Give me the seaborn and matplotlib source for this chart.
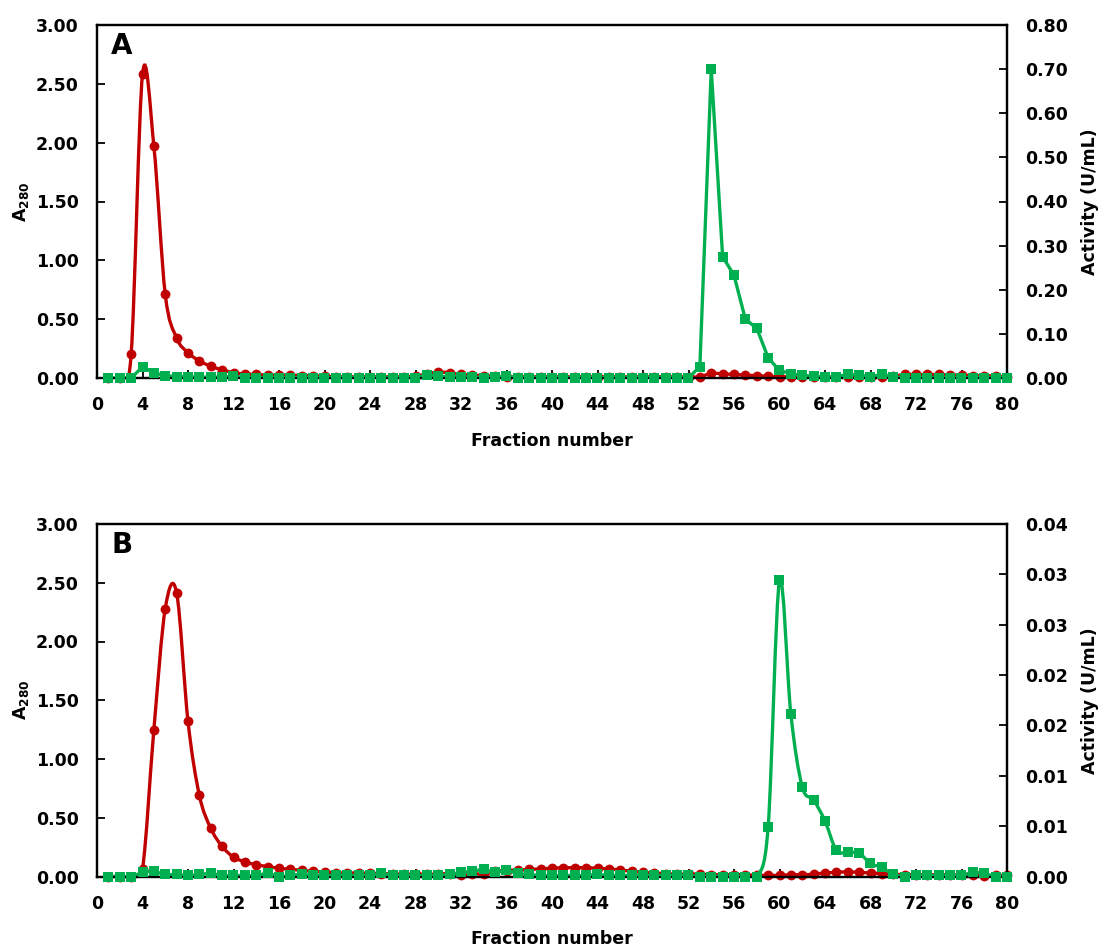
import numpy as np
import pandas as pd
import matplotlib
matplotlib.use('Agg')
import matplotlib.pyplot as plt
import seaborn as sns
from matplotlib.path import Path
from matplotlib.patches import PathPatch

# ---------------- data ----------------
fractions = list(range(1, 81))

a280_A = [0.00, 0.00, 0.20, 2.58, 1.97, 0.71, 0.34, 0.215, 0.145, 0.10,
          0.07, 0.045, 0.035, 0.03, 0.025, 0.025, 0.025, 0.02, 0.02, 0.015,
          0.01, 0.01, 0.01, 0.01, 0.01, 0.01, 0.01, 0.015, 0.035, 0.05,
          0.045, 0.03, 0.025, 0.02, 0.015, 0.01, 0.01, 0.01, 0.01, 0.01,
          0.01, 0.01, 0.01, 0.01, 0.01, 0.01, 0.01, 0.01, 0.01, 0.01,
          0.01, 0.01, 0.01, 0.04, 0.035, 0.03, 0.025, 0.02, 0.015, 0.01,
          0.01, 0.01, 0.01, 0.01, 0.01, 0.01, 0.01, 0.01, 0.01, 0.015,
          0.03, 0.03, 0.03, 0.03, 0.025, 0.025, 0.02, 0.02, 0.015, 0.01]

act_A = [0.000, 0.000, 0.000, 0.025, 0.012, 0.005, 0.003, 0.003, 0.002, 0.002,
         0.002, 0.004, 0.001, 0.001, 0.001, 0.001, 0.001, 0.001, 0.001, 0.001,
         0.001, 0.001, 0.001, 0.001, 0.001, 0.001, 0.001, 0.001, 0.007, 0.004,
         0.003, 0.002, 0.002, 0.001, 0.002, 0.004, 0.001, 0.001, 0.001, 0.001,
         0.001, 0.001, 0.001, 0.001, 0.001, 0.001, 0.001, 0.001, 0.001, 0.001,
         0.000, 0.000, 0.026, 0.700, 0.275, 0.233, 0.133, 0.113, 0.046, 0.017,
         0.010, 0.006, 0.004, 0.002, 0.003, 0.008, 0.007, 0.002, 0.009, 0.002,
         0.001, 0.001, 0.001, 0.001, 0.001, 0.001, 0.001, 0.001, 0.001, 0.001]

a280_B = [0.00, 0.00, 0.00, 0.065, 1.25, 2.28, 2.415, 1.32, 0.69, 0.41,
          0.256, 0.165, 0.125, 0.10, 0.085, 0.07, 0.062, 0.052, 0.045, 0.038,
          0.032, 0.03, 0.03, 0.028, 0.025, 0.022, 0.02, 0.02, 0.02, 0.02,
          0.025, 0.015, 0.025, 0.02, 0.045, 0.05, 0.055, 0.06, 0.065, 0.07,
          0.075, 0.075, 0.075, 0.07, 0.065, 0.055, 0.045, 0.035, 0.03, 0.025,
          0.02, 0.02, 0.02, 0.015, 0.015, 0.015, 0.015, 0.01, 0.01, 0.01,
          0.015, 0.015, 0.02, 0.03, 0.035, 0.04, 0.035, 0.03, 0.025, 0.02,
          0.015, 0.015, 0.015, 0.015, 0.015, 0.01, 0.01, 0.005, 0.01, 0.01]

act_B = [0.0000, 0.0000, 0.0000, 0.0004, 0.0005, 0.0002, 0.0002, 0.0001, 0.0002, 0.0003,
         0.0001, 0.0001, 0.0001, 0.0001, 0.0003, 0.0000, 0.0001, 0.0002, 0.0001, 0.0001,
         0.0001, 0.0001, 0.0001, 0.0001, 0.0003, 0.0001, 0.0001, 0.0001, 0.0001, 0.0001,
         0.0002, 0.0004, 0.0005, 0.0007, 0.0004, 0.0006, 0.0003, 0.0002, 0.0001, 0.0001,
         0.0001, 0.0001, 0.0001, 0.0002, 0.0001, 0.0001, 0.0001, 0.0001, 0.0001, 0.0001,
         0.0001, 0.0001, 0.0000, 0.0000, 0.0000, 0.0000, 0.0000, 0.0000, 0.0049, 0.0294,
         0.0161, 0.0089, 0.0076, 0.0055, 0.0026, 0.0024, 0.0023, 0.0013, 0.0009, 0.0002,
         0.0000, 0.0001, 0.0001, 0.0001, 0.0001, 0.0001, 0.0004, 0.0003, 0.0000, 0.0000]

x_ticks = list(range(0, 81, 4))
left_ticks = [0.0, 0.5, 1.0, 1.5, 2.0, 2.5, 3.0]
left_labels = ['0.00', '0.50', '1.00', '1.50', '2.00', '2.50', '3.00']
right_ticks_A = [0.0, 0.1, 0.2, 0.3, 0.4, 0.5, 0.6, 0.7, 0.8]
right_labels_A = ['0.00', '0.10', '0.20', '0.30', '0.40', '0.50', '0.60', '0.70', '0.80']
right_ticks_B = [0.0, 0.005, 0.010, 0.015, 0.020, 0.025, 0.030, 0.035]
right_labels_B = ['0.00', '0.01', '0.01', '0.02', '0.02', '0.03', '0.03', '0.04']

panel_labels = ['A', 'B']
xlabel_text = 'Fraction number'
left_title = r'$\mathbf{A_{280}}$'
right_title = 'Activity (U/mL)'

RED = '#C00000'
GREEN = '#00B050'

# ---------------- style ----------------
sns.set_style('white')
plt.rcParams['font.family'] = ['DejaVu Sans']
plt.rcParams['font.weight'] = 'bold'
plt.rcParams['mathtext.fontset'] = 'dejavusans'
plt.rcParams['text.color'] = 'black'
plt.rcParams['axes.labelcolor'] = 'black'
plt.rcParams['xtick.color'] = 'black'
plt.rcParams['ytick.color'] = 'black'

FS = 12.5


def smooth_path(x, y):
    """Excel-like smoothed line: cubic Bezier through the data points."""
    x = np.asarray(x, float)
    y = np.asarray(y, float)
    n = len(x)
    verts = [(x[0], y[0])]
    codes = [Path.MOVETO]
    for i in range(n - 1):
        i0 = max(i - 1, 0)
        i3 = min(i + 2, n - 1)
        c1 = (x[i] + (x[i + 1] - x[i0]) / 6.0, y[i] + (y[i + 1] - y[i0]) / 6.0)
        c2 = (x[i + 1] - (x[i3] - x[i]) / 6.0, y[i + 1] - (y[i3] - y[i]) / 6.0)
        verts += [c1, c2, (x[i + 1], y[i + 1])]
        codes += [Path.CURVE4] * 3
    return Path(verts, codes)


fig = plt.figure(figsize=(11.02, 9.51), dpi=100)
W, H = 1102.0, 951.0

panels = [
    dict(rect=[97 / W, 1 - 378 / H, 910 / W, 353 / H], red=a280_A, green=act_A,
         rticks=right_ticks_A, rlabels=right_labels_A, rmax=0.8, green_smooth=False,
         label=panel_labels[0]),
    dict(rect=[97 / W, 1 - 876.5 / H, 910 / W, 352.5 / H], red=a280_B, green=act_B,
         rticks=right_ticks_B, rlabels=right_labels_B, rmax=0.035, green_smooth=True,
         label=panel_labels[1]),
]

for p in panels:
    df = pd.DataFrame({'fraction': fractions, 'a280': p['red'], 'activity': p['green']})
    ax = fig.add_axes(p['rect'])
    ax2 = ax.twinx()

    # red A280 smoothed line + circles
    ax.add_patch(PathPatch(smooth_path(df['fraction'], df['a280']), fill=False,
                           edgecolor=RED, lw=2.4, zorder=2))
    sns.scatterplot(data=df, x='fraction', y='a280', ax=ax, color=RED, marker='o',
                    s=50, edgecolor=RED, linewidth=0, zorder=3, clip_on=False, legend=False)

    # green activity line + squares
    if p['green_smooth']:
        ax2.add_patch(PathPatch(smooth_path(df['fraction'], df['activity']), fill=False,
                                edgecolor=GREEN, lw=2.4, zorder=2))
    else:
        sns.lineplot(data=df, x='fraction', y='activity', ax=ax2, color=GREEN, lw=2.4,
                     zorder=2, legend=False)
    sns.scatterplot(data=df, x='fraction', y='activity', ax=ax2, color=GREEN, marker='s',
                    s=55, edgecolor=GREEN, linewidth=0, zorder=3, clip_on=False, legend=False)

    ax.set_xlim(0, 80)
    ax.set_ylim(0, 3.0)
    ax2.set_ylim(0, p['rmax'])
    ax.set_xticks(x_ticks)
    ax.set_xticklabels([str(t) for t in x_ticks])
    ax.set_yticks(left_ticks)
    ax.set_yticklabels(left_labels)
    ax2.set_yticks(p['rticks'])
    ax2.set_yticklabels(p['rlabels'])

    for a in (ax, ax2):
        a.set_xlabel('')
        a.set_ylabel('')
        a.tick_params(direction='in', length=6, width=1.3, labelsize=FS, pad=13,
                      colors='black')
        for s in a.spines.values():
            s.set_color('black')
            s.set_linewidth(1.6)
    ax.tick_params(axis='y', left=True, right=False)
    ax.tick_params(axis='x', bottom=True, top=False)
    ax2.tick_params(axis='y', right=True, left=False)
    for lab in ax.get_xticklabels() + ax.get_yticklabels() + ax2.get_yticklabels():
        lab.set_fontweight('bold')
        lab.set_color('black')

    ax.text(0.5, -0.178, xlabel_text, transform=ax.transAxes, ha='center', va='center',
            fontsize=FS, fontweight='bold', color='black')
    ax.text(-0.083, 0.5, left_title, transform=ax.transAxes, ha='center', va='center',
            rotation=90, fontsize=FS, color='black')
    ax.text(1.091, 0.5, right_title, transform=ax.transAxes, ha='center', va='center',
            rotation=90, fontsize=FS, fontweight='bold', color='black')
    ax.text(0.027, 0.94, p['label'], transform=ax.transAxes, ha='center', va='center',
            fontsize=20, fontweight='bold', color='black')

fig.savefig('out.png', dpi=100, facecolor='white')
